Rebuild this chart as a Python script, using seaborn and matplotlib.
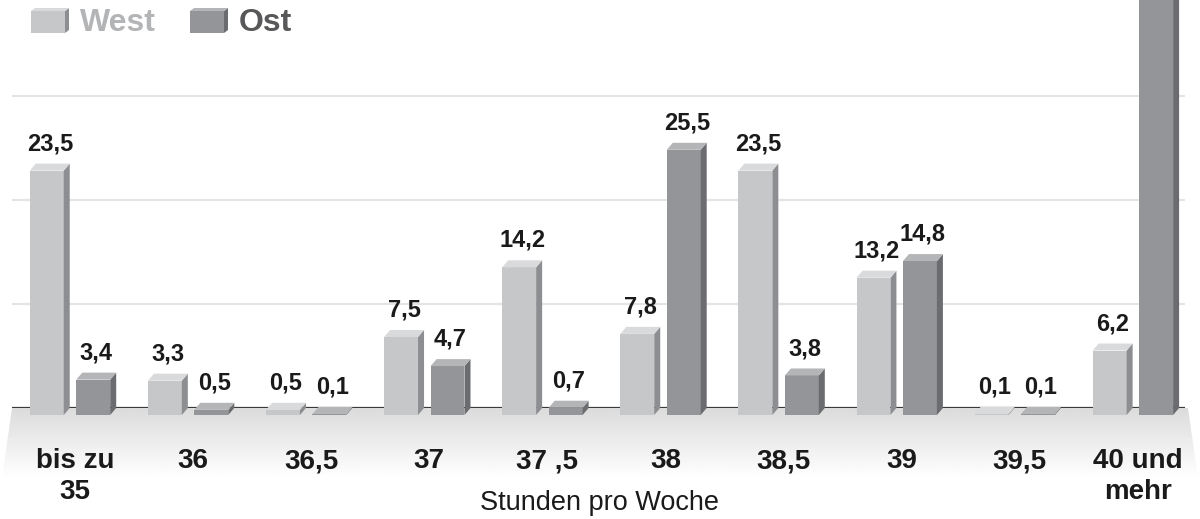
import numpy as np
import pandas as pd
import seaborn as sns
import matplotlib.pyplot as plt
from matplotlib.patches import Polygon, Rectangle
from matplotlib.transforms import ScaledTranslation

# Data
categories = ["bis zu\n35", "36", "36,5", "37", "37 ,5", "38", "38,5", "39", "39,5", "40 und\nmehr"]
west = [23.5, 3.3, 0.5, 7.5, 14.2, 7.8, 23.5, 13.2, 0.1, 6.2]
ost = [3.4, 0.5, 0.1, 4.7, 0.7, 25.5, 3.8, 14.8, 0.1, 46.4]
series = ["West", "Ost"]

df = pd.DataFrame({
    "Kategorie": categories * 2,
    "Anteil": west + ost,
    "Region": ["West"] * len(categories) + ["Ost"] * len(categories),
})

front = {"West": "#c6c7c9", "Ost": "#939598"}
side = {"West": "#8d8e91", "Ost": "#6b6c6f"}
top = {"West": "#d9dadc", "Ost": "#b4b5b7"}

sns.set_theme(style="white")
plt.rcParams["font.family"] = ["Liberation Sans", "DejaVu Sans"]

W, H = 1200, 519
fig = plt.figure(figsize=(12, 5.19), dpi=100)

# floor gradient behind the chart
floor = fig.add_axes([0, 0, 1, 1], zorder=0)
floor.set_xlim(0, W)
floor.set_ylim(H, 0)
floor.axis("off")
grad = np.linspace(0.86, 1.0, 100).reshape(-1, 1)
im = floor.imshow(grad, cmap="gray", vmin=0, vmax=1, extent=[0, W, 478, 408], aspect="auto")
clip = Polygon([(12, 408), (1188, 408), (1198, 478), (2, 478)], closed=True, transform=floor.transData)
im.set_clip_path(clip)

ax = fig.add_axes([12 / W, 1 - 408 / H, 1173 / W, 408 / H], zorder=1)
ax.patch.set_alpha(0)

sns.barplot(data=df, x="Kategorie", y="Anteil", hue="Region", hue_order=series,
            palette=front, width=0.787, gap=0.27, saturation=1, legend=False,
            linewidth=0, ax=ax, zorder=3)

px_x = 118.1
px_y = 10.4
ax.set_xlim(-(70 - 12) / px_x, (1185 - 70) / px_x)
ax.set_ylim(0, 408 / px_y)
ymax = 408 / px_y

# grid and baseline
for g in [10, 20, 30]:
    ax.axhline(g, color="#e4e4e4", lw=1.5, zorder=1)
ax.axhline(0, color="#3a3a3a", lw=1.6, zorder=2)

dx = 6 / px_x
dy = 7 / px_y
off = 7 / px_y

for region, container in zip(series, ax.containers):
    vals = west if region == "West" else ost
    for bar, v in zip(container, vals):
        x0 = bar.get_x()
        w = bar.get_width()
        bar.set_y(-off)
        bar.set_height(v)
        bar.set_clip_on(False)
        t = v - off
        ax.add_patch(Polygon([(x0 + w, -off), (x0 + w + dx, -off + dy), (x0 + w + dx, t + dy), (x0 + w, t)],
                             closed=True, fc=side[region], ec="none", zorder=3, clip_on=False))
        ax.add_patch(Polygon([(x0, t), (x0 + dx, t + dy), (x0 + w + dx, t + dy), (x0 + w, t)],
                             closed=True, fc=top[region], ec="none", zorder=3, clip_on=False))
        if v < ymax - 4:
            ax.annotate(f"{v:.1f}".replace(".", ","), (x0 + (w + dx) / 2, t + dy),
                        xytext=(0, 6), textcoords="offset points", ha="center", va="bottom",
                        fontsize=17, fontweight="bold", color="#1a1a1a", annotation_clip=False)

ax.set_xlabel("")
ax.set_ylabel("")
ax.set_yticks([])
ax.set_xticks(range(len(categories)))
ax.set_xticklabels(categories, fontsize=20, fontweight="bold", color="#1a1a1a", linespacing=1.25)
ax.tick_params(axis="x", length=0, pad=29)
for lbl in ax.get_xticklabels():
    lbl.set_transform(lbl.get_transform() + ScaledTranslation(0.05, 0, fig.dpi_scale_trans))
for s in ax.spines.values():
    s.set_visible(False)

fig.text(600 / W, 1 - 503 / H, "Stunden pro Woche", ha="center", va="center", fontsize=19.5, color="#1a1a1a")

# legend with small 3D boxes
for x_icon, region, tcol in [(31, "West", "#b3b4b6"), (190, "Ost", "#58585a")]:
    floor.add_patch(Rectangle((x_icon, 11), 34, 22, fc=front[region], ec="none"))
    floor.add_patch(Polygon([(x_icon + 34, 33), (x_icon + 38, 30), (x_icon + 38, 8), (x_icon + 34, 11)],
                            closed=True, fc=side[region], ec="none"))
    floor.add_patch(Polygon([(x_icon, 11), (x_icon + 4, 8), (x_icon + 38, 8), (x_icon + 34, 11)],
                            closed=True, fc=top[region], ec="none"))
    floor.text(x_icon + 49, 23, region, ha="left", va="center", fontsize=23, fontweight="bold", color=tcol)

fig.savefig("out.png", dpi=100)
